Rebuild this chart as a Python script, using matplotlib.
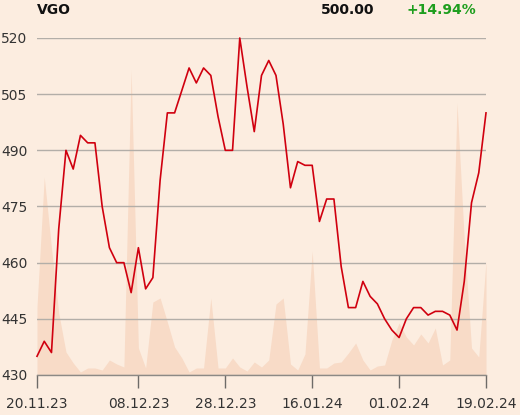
import matplotlib
matplotlib.use("Agg")
import matplotlib.pyplot as plt
import pandas as pd

BG = "#fcede0"
AREA = "#f8dbc7"
LINE = "#d0000f"
GRID = "#b3aea8"

# trading days (exchange closed 25./26.12. and 01.01.)
days = pd.bdate_range("2023-11-20", "2024-02-19")
days = days[~days.isin(pd.to_datetime(["2023-12-25", "2023-12-26", "2024-01-01"]))]

prices = [435, 439, 436, 469, 490, 485, 494, 492, 492, 475,
          464, 460, 460, 452, 464, 453, 456, 482, 500, 500,
          506, 512, 508, 512, 510, 499, 490, 490, 520, 507,
          495, 510, 514, 510, 497, 480, 487, 486, 486, 471,
          477, 477, 459, 448, 448, 455, 451, 449, 445, 442,
          440, 445, 448, 448, 446, 447, 447, 446, 442, 455,
          476, 484, 500]

volumes = [68, 198, 127, 62, 23, 12, 3, 7, 7, 5,
           15, 11, 8, 305, 27, 7, 73, 77, 53, 28,
           17, 3, 7, 7, 77, 7, 7, 17, 8, 4,
           13, 8, 15, 71, 77, 11, 5, 21, 124, 7,
           7, 12, 13, 22, 32, 15, 5, 9, 10, 35,
           52, 38, 30, 41, 32, 47, 10, 15, 272, 135,
           27, 18, 114]

tick_dates = ["2023-11-20", "2023-12-08", "2023-12-28", "2024-01-16", "2024-02-01", "2024-02-19"]
y_ticks = [430, 445, 460, 475, 490, 505, 520]

symbol = "VGO"
last = "500.00"
change = "+14.94%"

x = list(range(len(days)))
tick_pos = [list(days).index(pd.Timestamp(d)) for d in tick_dates]
tick_labels = [pd.Timestamp(d).strftime("%d.%m.%y") for d in tick_dates]

fig = plt.figure(figsize=(5.2, 4.15), dpi=100, facecolor=BG)
ax = fig.add_axes([37 / 520, 40 / 415, 449 / 520, 337 / 415])
ax.set_facecolor(BG)

vax = ax.twinx()
vax.fill_between(x, volumes, 0, color=AREA, linewidth=0, zorder=1)
vax.set_ylim(0, 337)
vax.axis("off")
vax.set_zorder(0)
ax.set_zorder(1)
ax.patch.set_visible(False)
fig.patch.set_facecolor(BG)

ax.plot(x, prices, color=LINE, linewidth=1.2, zorder=3, clip_on=False)

ax.set_xlim(0, len(days) - 1)
ax.set_ylim(430, 520)
ax.set_yticks(y_ticks)
ax.set_yticklabels([str(v) for v in y_ticks])
ax.grid(axis="y", color=GRID, linewidth=1)
ax.set_axisbelow(True)
ax.set_xticks(tick_pos)
ax.set_xticklabels(tick_labels)

for s in ["top", "right", "left"]:
    ax.spines[s].set_visible(False)
ax.spines["bottom"].set_color("#8c8985")
ax.spines["bottom"].set_linewidth(1)

ax.tick_params(axis="y", length=0, pad=7, labelsize=10, labelcolor="#333333")
ax.tick_params(axis="x", length=9.5, width=1, color="#6e6b68", pad=6,
               labelsize=10, labelcolor="#333333")

fig.text(37 / 520, 1 - 10 / 415, symbol, fontsize=10, fontweight="bold",
         color="#111111", va="center", ha="left")
fig.text(374 / 520, 1 - 10 / 415, last, fontsize=10, fontweight="bold",
         color="#111111", va="center", ha="right")
fig.text(407 / 520, 1 - 10 / 415, change, fontsize=10, fontweight="bold",
         color="#1e9e1e", va="center", ha="left")

fig.savefig("out.png", dpi=100, facecolor=BG)
